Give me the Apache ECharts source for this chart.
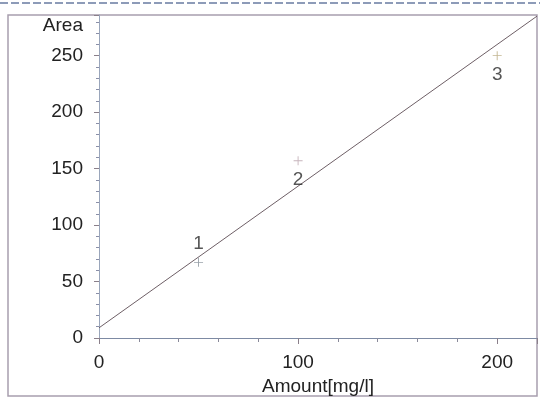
<!DOCTYPE html>
<html>
<head>
<meta charset="utf-8">
<script src="https://cdn.jsdelivr.net/npm/echarts@6/dist/echarts.min.js"></script>
<style>html,body{margin:0;padding:0;background:#fff;}#c{width:540px;height:403px;}</style>
</head>
<body>
<div id="c"></div>
<script>
// Calibration points
const pointLabels = ['1', '2', '3'];
const amounts = [50, 100, 200];
const areas = [67, 157, 250];
// Calibration line endpoints (x, y)
const lineX = [0, 220];
const lineY = [9, 285];
// Axis ranges
const xMin = 0, xMax = 220, xStep = 100;
const yMin = 0, yMax = 286, yStep = 50;

const chart = echarts.init(document.getElementById('c'), null, {renderer: 'canvas'});
const font = 'Liberation Sans, Arial, sans-serif';
const labelPos = ['top', 'bottom', 'bottom'];
const crossColors = ['#7f8a94', '#b8a0aa', '#b3a275'];

chart.setOption({
  animation: false,
  backgroundColor: '#fff',
  grid: {left: 99, right: 3, top: 15, bottom: 65, containLabel: false, outerBoundsMode: 'none'},
  graphic: [
    {type: 'rect', shape: {x: 8, y: 15, width: 529, height: 381}, style: {fill: 'none', stroke: '#a89fae', lineWidth: 1.5}, z: -1},
    {type: 'line', shape: {x1: 0, y1: 3, x2: 540, y2: 3}, style: {stroke: '#8d9bb8', lineWidth: 2, lineDash: [8, 3]}}
  ],
  xAxis: {
    type: 'value', min: xMin, max: xMax, interval: xStep,
    name: 'Amount[mg/l]', nameLocation: 'middle', nameGap: 39,
    nameTextStyle: {fontFamily: font, fontSize: 19, color: '#222'},
    axisLine: {show: true, onZero: false, lineStyle: {color: '#7d8aa3', width: 1}},
    axisTick: {show: true, inside: false, length: 6, lineStyle: {color: '#8a7f8a'}},
    minorTick: {show: true, splitNumber: 5, length: 4, lineStyle: {color: '#8a8a9a'}},
    splitLine: {show: false},
    axisLabel: {fontFamily: font, fontSize: 19, color: '#222', margin: 15,
      formatter: v => (v % xStep === 0 ? String(v) : '')}
  },
  yAxis: {
    type: 'value', min: yMin, max: yMax, interval: yStep,
    name: 'Area', nameLocation: 'end', nameGap: -11,
    nameTextStyle: {fontFamily: font, fontSize: 19, color: '#222', align: 'right', verticalAlign: 'middle', padding: [0, 16, 0, 0]},
    axisLine: {show: true, onZero: false, lineStyle: {color: '#9aa6bb', width: 1}},
    axisTick: {show: true, inside: false, length: 5, lineStyle: {color: '#8a7f8a'}},
    minorTick: {show: true, splitNumber: 5, length: 3, lineStyle: {color: '#8a8fa8'}},
    splitLine: {show: false},
    axisLabel: {fontFamily: font, fontSize: 19, color: '#222', margin: 16,
      formatter: v => (v % yStep === 0 ? String(v) : '')}
  },
  series: [
    {
      type: 'line',
      data: lineX.map((x, i) => [x, lineY[i]]),
      showSymbol: false, symbol: 'none',
      lineStyle: {color: '#6e5f66', width: 1},
      z: 2
    },
    {
      type: 'scatter',
      data: amounts.map((x, i) => ({
        value: [x, areas[i]],
        itemStyle: {color: crossColors[i]},
        label: {show: true, formatter: pointLabels[i], position: labelPos[i], distance: 5}
      })),
      symbol: 'path://M4.5,0h1v10h-1zM0,4.5h10v1h-10z',
      symbolSize: 9,
      label: {fontFamily: font, fontSize: 19, color: '#2a2a2a'},
      z: 3
    }
  ]
});
</script>
</body>
</html>
